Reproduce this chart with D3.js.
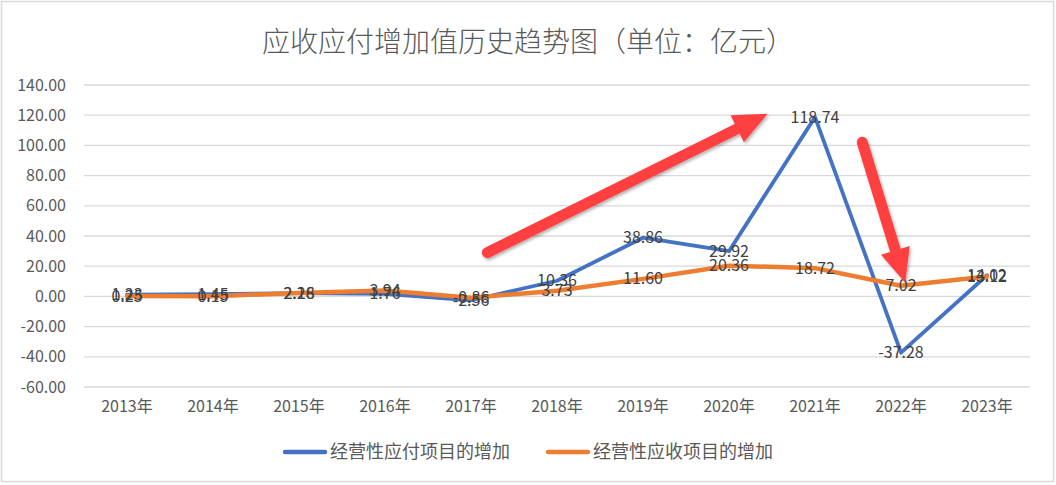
<!DOCTYPE html>
<html>
<head>
<meta charset="utf-8">
<script src="https://cdn.jsdelivr.net/npm/d3@7"></script>
<style>
  body { margin: 0; background: #fff; }
  text { font-family: "Noto Sans CJK SC", "Noto Sans", sans-serif; }
</style>
</head>
<body>
<div id="chart"></div>
<script>
const years = ['2013年', '2014年', '2015年', '2016年', '2017年', '2018年', '2019年', '2020年', '2021年', '2022年', '2023年']
const payable = [1.23, 1.45, 2.16, 1.76, -2.56, 10.36, 38.86, 29.92, 118.74, -37.28, 14.02]
const receivable = [0.25, 0.15, 2.28, 3.94, -0.86, 3.73, 11.60, 20.36, 18.72, 7.02, 13.12]
const yTicks = [-60, -40, -20, 0, 20, 40, 60, 80, 100, 120, 140]
const seriesNames = ['经营性应付项目的增加', '经营性应收项目的增加']
// arrows in [category index, value]
const arrows = [
    [[4.19, 29], [7.45, 121]],
    [[8.55, 102], [9.05, 9]]
]

const W = 1056, H = 485
const margin = {top: 85, right: 26, bottom: 98, left: 84}
const width = W - margin.left - margin.right
const height = H - margin.top - margin.bottom
const colors = ['#4472C4', '#ED7D31']
const fmt = d => d.toFixed(2)   // plain hyphen minus like Excel

const svg = d3.select('#chart').append('svg')
    .attr('width', W)
    .attr('height', H)

svg.append('rect')
    .attr('x', 1.5).attr('y', 1.5)
    .attr('width', W - 4).attr('height', H - 5)
    .attr('fill', '#fff')
    .attr('stroke', '#D9D9D9')
    .attr('stroke-width', 1.5)

const defs = svg.append('defs')
const shadow = defs.append('filter').attr('id', 'shadow')
    .attr('x', '-20%').attr('y', '-20%').attr('width', '140%').attr('height', '140%')
shadow.append('feDropShadow')
    .attr('dx', 1.5).attr('dy', 2).attr('stdDeviation', 1.5)
    .attr('flood-color', '#000').attr('flood-opacity', 0.3)

svg.append('text')
    .attr('x', W / 2)
    .attr('y', 52)
    .attr('text-anchor', 'middle')
    .attr('font-size', 28)
    .attr('font-weight', 300)
    .attr('fill', '#595959')
    .text('应收应付增加值历史趋势图（单位：亿元）')

const g = svg.append('g')
    .attr('transform', `translate(${margin.left},${margin.top})`)

const x = d3.scaleBand().domain(years).range([0, width])
const xIdx = d3.scaleLinear().domain([-0.5, years.length - 0.5]).range([0, width])
const y = d3.scaleLinear().domain([-60, 140]).range([height, 0])

// gridlines
g.append('g')
    .selectAll('line')
    .data(yTicks)
    .join('line')
    .attr('x1', 0).attr('x2', width)
    .attr('y1', d => y(d)).attr('y2', d => y(d))
    .attr('stroke', '#D9D9D9')
    .attr('stroke-width', 1.3)

const yAxis = g.append('g')
    .call(d3.axisLeft(y).tickValues(yTicks).tickSize(0).tickPadding(18).tickFormat(fmt))
yAxis.select('.domain').remove()
yAxis.selectAll('text')
    .attr('font-size', 16)
    .attr('fill', '#595959')

const xAxis = g.append('g')
    .attr('transform', `translate(0,${height})`)
    .call(d3.axisBottom(x).tickSize(0).tickPadding(14))
xAxis.select('.domain').remove()
xAxis.selectAll('text')
    .attr('font-size', 16)
    .attr('fill', '#595959')

const cx = d => x(d) + x.bandwidth() / 2
const line = d3.line()
    .x((d, i) => cx(years[i]))
    .y(d => y(d))

const allSeries = [payable, receivable]
allSeries.forEach((s, k) => {
    g.append('path')
        .datum(s)
        .attr('fill', 'none')
        .attr('stroke', colors[k])
        .attr('stroke-width', k === 0 ? 3.8 : 4.5)
        .attr('stroke-linejoin', 'round')
        .attr('stroke-linecap', 'round')
        .attr('d', line)
})

allSeries.forEach(s => {
    g.append('g')
        .selectAll('text')
        .data(s)
        .join('text')
        .attr('x', (d, i) => cx(years[i]))
        .attr('y', d => y(d))
        .attr('dy', '0.35em')
        .attr('text-anchor', 'middle')
        .attr('font-size', 16)
        .attr('fill', '#404040')
        .text(fmt)
})

// red arrows
arrows.forEach(([a, b]) => {
    const x1 = xIdx(a[0]), y1 = y(a[1]), x2 = xIdx(b[0]), y2 = y(b[1])
    const ang = Math.atan2(y2 - y1, x2 - x1)
    const headLen = 34, headW = 15
    const bx = x2 - headLen * Math.cos(ang), by = y2 - headLen * Math.sin(ang)
    const px = -Math.sin(ang), py = Math.cos(ang)
    const ag = g.append('g').attr('filter', 'url(#shadow)')
    ag.append('line')
        .attr('x1', x1).attr('y1', y1)
        .attr('x2', bx + 2 * Math.cos(ang)).attr('y2', by + 2 * Math.sin(ang))
        .attr('stroke', '#FF4040')
        .attr('stroke-width', 11)
        .attr('stroke-linecap', 'round')
    ag.append('path')
        .attr('d', `M${x2},${y2}L${bx + px * headW},${by + py * headW}L${bx - px * headW},${by - py * headW}Z`)
        .attr('fill', '#FF4040')
})

// legend
const legend = svg.append('g').attr('transform', 'translate(0,452)')
const legendX = [285, 548]
seriesNames.forEach((name, k) => {
    legend.append('line')
        .attr('x1', legendX[k]).attr('x2', legendX[k] + 40)
        .attr('stroke', colors[k])
        .attr('stroke-width', 4.5)
        .attr('stroke-linecap', 'round')
    legend.append('text')
        .attr('x', legendX[k] + 45)
        .attr('dy', '0.35em')
        .attr('font-size', 18)
        .attr('fill', '#595959')
        .text(name)
})
</script>
</body>
</html>
